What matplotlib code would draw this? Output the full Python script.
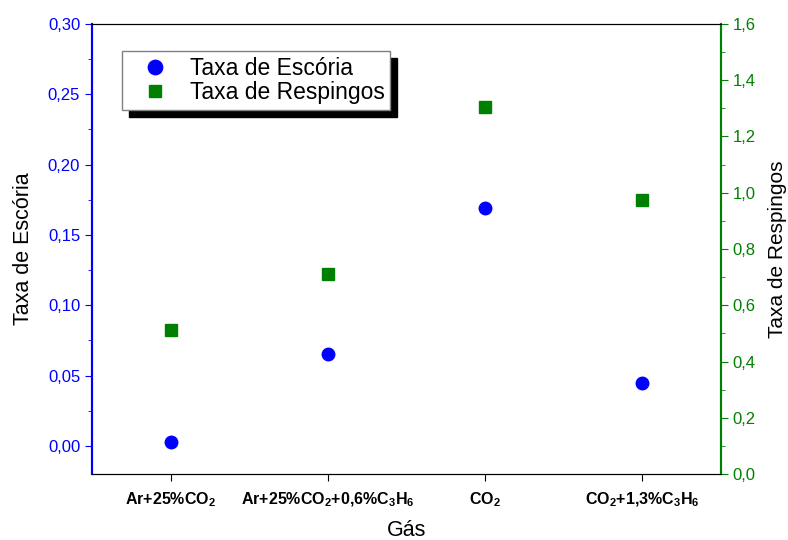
import matplotlib
matplotlib.use("Agg")
import matplotlib.pyplot as plt
from matplotlib.ticker import FuncFormatter, MultipleLocator
from matplotlib import font_manager

names = {f.name for f in font_manager.fontManager.ttflist}
narrow = 'Liberation Sans Narrow' if 'Liberation Sans Narrow' in names else 'Liberation Sans'

plt.rcParams['font.family'] = ['Liberation Sans', 'DejaVu Sans']
plt.rcParams['mathtext.fontset'] = 'custom'
plt.rcParams['mathtext.rm'] = narrow
plt.rcParams['mathtext.bf'] = narrow + ':bold'

categories = [r'Ar+25%CO$_\mathbf{2}$',
              r'Ar+25%CO$_\mathbf{2}$+0,6%C$_\mathbf{3}$H$_\mathbf{6}$',
              r'CO$_\mathbf{2}$',
              r'CO$_\mathbf{2}$+1,3%C$_\mathbf{3}$H$_\mathbf{6}$']
escoria = [0.003, 0.065, 0.169, 0.045]
respingos = [0.512, 0.711, 1.305, 0.974]

blue = '#0000FF'
green = '#008000'

fig = plt.figure(figsize=(7.88, 5.4), dpi=100)
ax = fig.add_axes([0.1168, 0.1222, 0.7982, 0.8334])
ax2 = ax.twinx()

x = list(range(1, len(categories) + 1))
h1, = ax.plot(x, escoria, 'o', color=blue, markersize=9, linestyle='none', label='Taxa de Escória')
h2, = ax2.plot(x, respingos, 's', color=green, markersize=8, linestyle='none', label='Taxa de Respingos')

ax.set_xlim(0.5, 4.5)
ax.set_ylim(-0.02, 0.30)
ax2.set_ylim(0, 1.6)

ax.set_xticks(x)
ax.set_xticklabels(categories, fontweight='bold', fontsize=11.5, family=[narrow, 'DejaVu Sans'])
ax.yaxis.set_major_locator(MultipleLocator(0.05))
ax.yaxis.set_minor_locator(MultipleLocator(0.025))
ax2.yaxis.set_major_locator(MultipleLocator(0.2))
ax2.yaxis.set_minor_locator(MultipleLocator(0.1))

ax.yaxis.set_major_formatter(FuncFormatter(lambda v, p: f'{v:.2f}'.replace('.', ',')))
ax2.yaxis.set_major_formatter(FuncFormatter(lambda v, p: f'{v:.1f}'.replace('.', ',')))

ax.tick_params(axis='y', which='major', colors=blue, labelsize=12, length=5, direction='out')
ax.tick_params(axis='y', which='minor', colors=blue, length=3, direction='out')
ax2.tick_params(axis='y', which='major', colors=green, labelsize=12, length=5, direction='out')
ax2.tick_params(axis='y', which='minor', colors=green, length=3, direction='out')
ax.tick_params(axis='x', length=5, direction='out', pad=7)

for a in (ax, ax2):
    a.spines['left'].set_color(blue)
    a.spines['right'].set_color(green)
    a.spines['left'].set_linewidth(1.5)
    a.spines['right'].set_linewidth(1.5)

ax.set_ylabel('Taxa de Escória', fontsize=15.5, labelpad=10)
ax2.set_ylabel('Taxa de Respingos', fontsize=15, labelpad=9)
ax.set_xlabel('Gás', fontsize=15.5, labelpad=8)

leg = ax.legend([h1, h2], ['Taxa de Escória', 'Taxa de Respingos'],
                loc='upper left', bbox_to_anchor=(0.0477, 0.94), borderaxespad=0,
                fontsize=16.5, fancybox=False, framealpha=1, edgecolor='#808080',
                shadow={'ox': 5, 'oy': -5, 'color': 'black', 'alpha': 1},
                handletextpad=0.3, labelspacing=0.05, borderpad=0.25, handlelength=2.4,
                markerscale=1.15)
leg.set_zorder(10)

fig.savefig('out.png', dpi=100)
